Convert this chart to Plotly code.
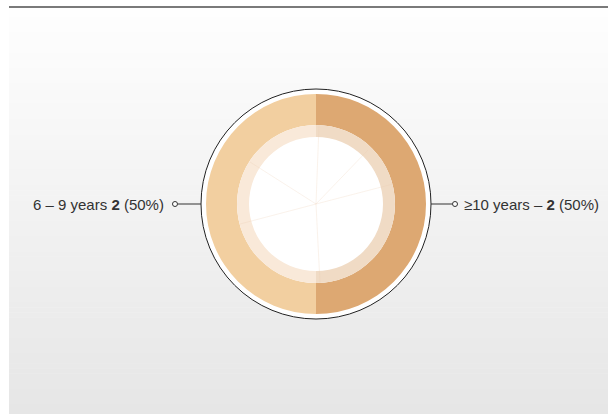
import plotly.graph_objects as go

# Chart data
categories = ["≥10 years", "6 – 9 years"]
counts = [2, 2]
outer_colors = ["#dda872", "#f2cfa0"]
inner_colors = ["#f0dbc5", "#f9e9d9"]

W, H = 608, 414
cx, cy = 316, 204          # donut centre (px, from top-left)
r_outer, r_ring, r_inner, r_frame = 110, 79, 67, 115

def px_x(x):
    return x / W

def px_y(y):
    return 1 - y / H

total = sum(counts)
pct = [round(100 * c / total) for c in counts]

fig = go.Figure()

# Outer ring
fig.add_trace(go.Pie(
    labels=categories, values=counts, sort=False, direction="clockwise", rotation=0,
    hole=r_ring / r_outer, marker=dict(colors=outer_colors, line=dict(width=0)),
    textinfo="none", hoverinfo="label+value+percent", showlegend=False,
    domain=dict(x=[px_x(cx - r_outer), px_x(cx + r_outer)],
                y=[px_y(cy + r_outer), px_y(cy - r_outer)]),
))
# Inner translucent ring
fig.add_trace(go.Pie(
    labels=categories, values=counts, sort=False, direction="clockwise", rotation=0,
    hole=r_inner / r_ring, marker=dict(colors=inner_colors, line=dict(width=0)),
    textinfo="none", hoverinfo="skip", showlegend=False,
    domain=dict(x=[px_x(cx - r_ring), px_x(cx + r_ring)],
                y=[px_y(cy + r_ring), px_y(cy - r_ring)]),
))

shapes = []
# Background panel with vertical gradient
top, bottom, left = 7, H, 9
steps = 80
c_top, c_bot = (254, 254, 254), (230, 230, 230)
for i in range(steps):
    t = i / (steps - 1)
    col = tuple(round(a + (b - a) * t) for a, b in zip(c_top, c_bot))
    y0 = top + (bottom - top) * i / steps
    y1 = top + (bottom - top) * (i + 1) / steps + 0.5
    shapes.append(dict(type="rect", xref="paper", yref="paper", layer="below",
                       x0=px_x(left), x1=1, y0=px_y(y1), y1=px_y(y0),
                       line=dict(width=0), fillcolor="rgb(%d,%d,%d)" % col))
# Top rule
shapes.append(dict(type="line", xref="paper", yref="paper", layer="below",
                   x0=px_x(left), x1=1, y0=px_y(7), y1=px_y(7),
                   line=dict(color="#7a7a7a", width=2)))
# White disc with thin dark frame behind the donut
shapes.append(dict(type="circle", xref="paper", yref="paper", layer="below",
                   x0=px_x(cx - r_frame), x1=px_x(cx + r_frame),
                   y0=px_y(cy + r_frame), y1=px_y(cy - r_frame),
                   fillcolor="white", line=dict(color="#222", width=1)))
# Faint radial strokes inside the hole
for (x2, y2) in [(319, 125), (368, 150), (393, 184), (250, 162), (240, 224), (320, 283)]:
    shapes.append(dict(type="line", xref="paper", yref="paper", layer="above",
                       x0=px_x(cx), y0=px_y(cy), x1=px_x(x2), y1=px_y(y2),
                       line=dict(color="rgba(235,205,175,0.25)", width=1)))
# Label connectors
shapes.append(dict(type="line", xref="paper", yref="paper", layer="above",
                   x0=px_x(178), x1=px_x(cx - r_frame), y0=px_y(cy), y1=px_y(cy),
                   line=dict(color="#333", width=1)))
shapes.append(dict(type="line", xref="paper", yref="paper", layer="above",
                   x0=px_x(cx + r_frame), x1=px_x(452), y0=px_y(cy), y1=px_y(cy),
                   line=dict(color="#333", width=1)))
for mx in (175, 455):
    shapes.append(dict(type="circle", xref="paper", yref="paper", layer="above",
                       x0=px_x(mx - 2.5), x1=px_x(mx + 2.5),
                       y0=px_y(cy + 2.5), y1=px_y(cy - 2.5),
                       fillcolor="white", line=dict(color="#333", width=1)))

font = dict(family="Liberation Sans, Arial, sans-serif", size=15, color="#333")
annotations = [
    dict(xref="paper", yref="paper", x=px_x(166), y=px_y(cy), xanchor="right", yanchor="middle",
         showarrow=False, font=font,
         text=f"{categories[1]} <b>{counts[1]}</b> ({pct[1]}%)"),
    dict(xref="paper", yref="paper", x=px_x(462), y=px_y(cy), xanchor="left", yanchor="middle",
         showarrow=False, font=font,
         text=f"{categories[0]} – <b>{counts[0]}</b> ({pct[0]}%)"),
]

fig.update_layout(
    width=W, height=H, margin=dict(l=0, r=0, t=0, b=0),
    paper_bgcolor="white", plot_bgcolor="white",
    shapes=shapes, annotations=annotations,
)

fig.write_html("out.html")
